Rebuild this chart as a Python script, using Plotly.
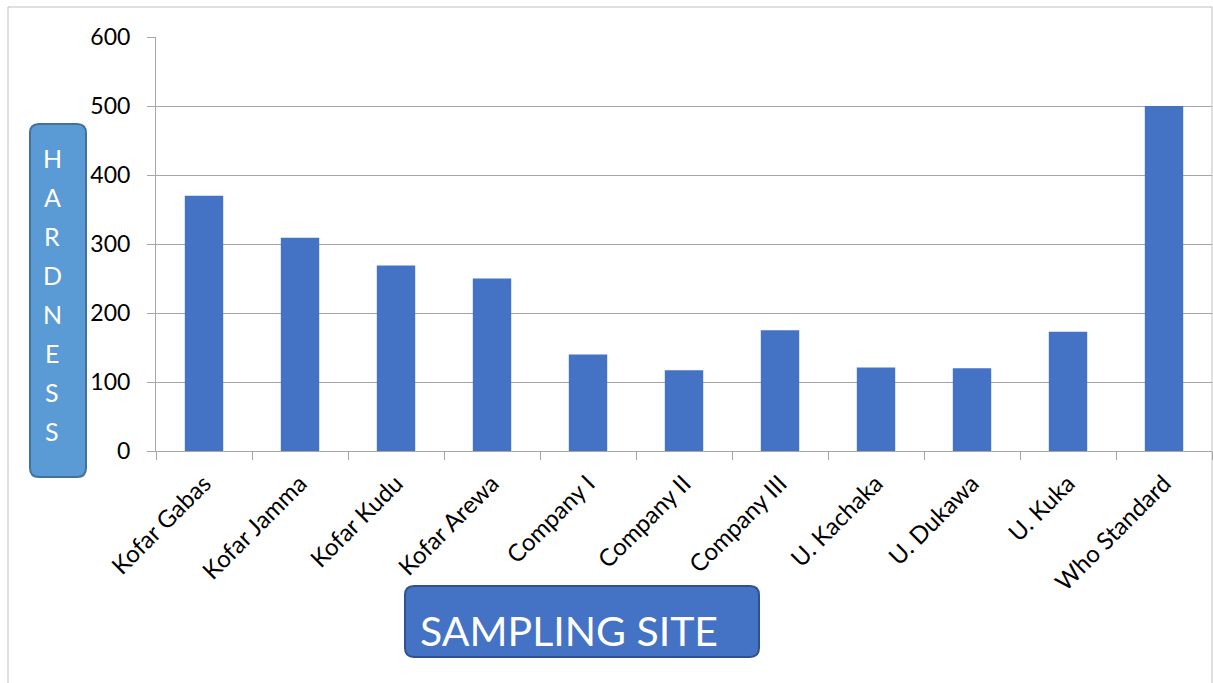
import plotly.graph_objects as go

categories = ["Kofar Gabas", "Kofar Jamma", "Kofar Kudu", "Kofar Arewa", "Company I",
              "Company II", "Company III", "U. Kachaka", "U. Dukawa", "U. Kuka", "Who Standard"]
hardness = [370, 309, 269, 250, 140, 117, 175, 121, 120, 173, 500]
y_ticks = [0, 100, 200, 300, 400, 500, 600]
y_title_letters = list("HARDNESS")
x_title = "SAMPLING SITE"

W, H = 1213, 683
L, R, T, B = 156, 1212, 37, 451  # plot area in pixels

def px(x):
    return (x - L) / (R - L)

def py(y):
    return (B - y) / (B - T)

def rounded_rect(x0, y0, x1, y1, r):
    def p(x, y):
        return f"{px(x):.5f},{py(y):.5f}"
    return (f"M {p(x0 + r, y0)} L {p(x1 - r, y0)} Q {p(x1, y0)} {p(x1, y0 + r)} "
            f"L {p(x1, y1 - r)} Q {p(x1, y1)} {p(x1 - r, y1)} "
            f"L {p(x0 + r, y1)} Q {p(x0, y1)} {p(x0, y1 - r)} "
            f"L {p(x0, y0 + r)} Q {p(x0, y0)} {p(x0 + r, y0)} Z")

fig = go.Figure()
fig.add_trace(go.Bar(x=categories, y=hardness, marker=dict(color="#4472c4", line=dict(width=0)),
                     width=0.4))

font_family = "Lato, Carlito, Calibri, sans-serif"

shapes = [
    dict(type="rect", xref="paper", yref="paper", x0=px(8), x1=px(1212), y0=py(7), y1=py(700),
         line=dict(color="#bfbfbf", width=1), fillcolor="rgba(0,0,0,0)", layer="below"),
    dict(type="path", xref="paper", yref="paper", path=rounded_rect(30, 124, 86, 477, 9),
         fillcolor="#5b9bd5", line=dict(color="#41719c", width=2)),
    dict(type="path", xref="paper", yref="paper", path=rounded_rect(405, 586, 759, 657, 9),
         fillcolor="#4472c4", line=dict(color="#2f528f", width=2)),
]

annotations = []
for i, ch in enumerate(y_title_letters):
    annotations.append(dict(text=ch, xref="paper", yref="paper", x=px(52), y=py(158 + i * 39),
                            xanchor="center", yanchor="middle", showarrow=False,
                            font=dict(family=font_family, size=25, color="white")))
annotations.append(dict(text=x_title, xref="paper", yref="paper", x=px(418), y=py(630),
                        xanchor="left", yanchor="middle", showarrow=False,
                        font=dict(family=font_family, size=41, color="white")))

fig.update_layout(
    width=W, height=H,
    margin=dict(l=L, r=W - R, t=T, b=H - B, pad=0),
    paper_bgcolor="white", plot_bgcolor="white",
    showlegend=False,
    bargap=0.6,
    font=dict(family=font_family, color="black"),
    shapes=shapes,
    annotations=annotations,
    xaxis=dict(
        type="category", tickangle=-45, tickfont=dict(size=24),
        showline=True, linecolor="#a6a6a6", linewidth=1,
        ticks="outside", ticklen=8, tickcolor="#a6a6a6", tickson="boundaries",
        showgrid=False, mirror=False, ticklabelstandoff=8,
    ),
    yaxis=dict(
        range=[0, 600], tickvals=y_ticks, tickfont=dict(size=23),
        showline=True, linecolor="#a6a6a6", linewidth=1,
        ticks="outside", ticklen=8, tickcolor="#a6a6a6",
        showgrid=True, gridcolor="#a6a6a6", gridwidth=1,
        zeroline=False, ticklabelstandoff=12,
    ),
)

fig.write_html("out.html")
